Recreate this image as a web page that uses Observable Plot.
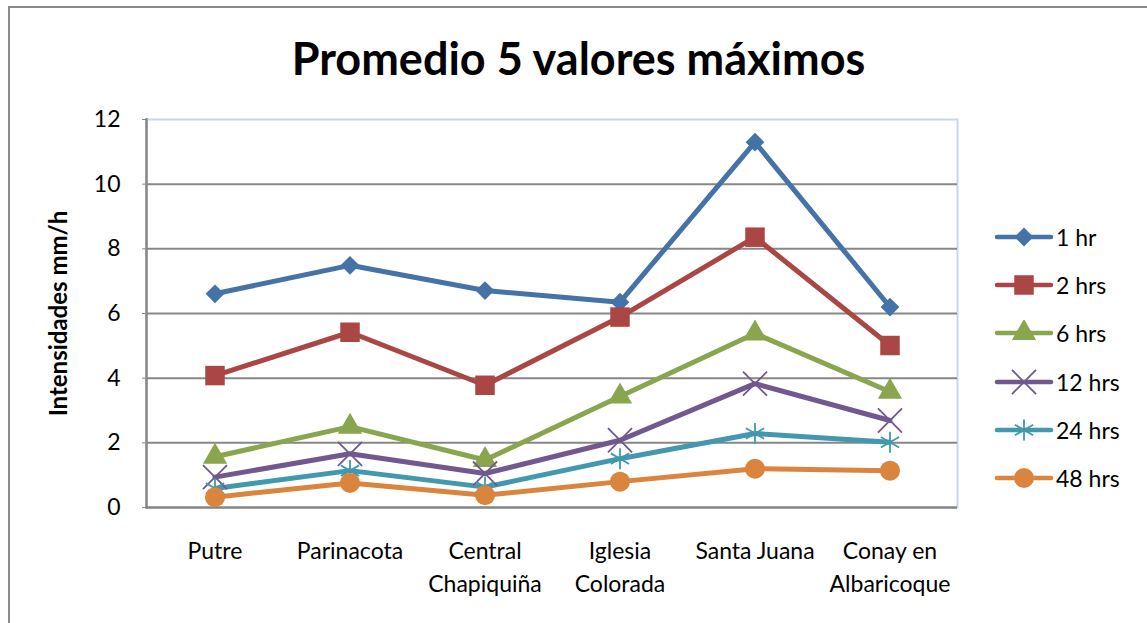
<!DOCTYPE html>
<html>
<head>
<meta charset="utf-8">
<script src="https://cdn.jsdelivr.net/npm/d3@7"></script>
<script src="https://cdn.jsdelivr.net/npm/@observablehq/plot@0.6"></script>
<style>
  html, body { margin: 0; padding: 0; background: #fff; }
  #wrap { position: relative; width: 1147px; height: 623px; overflow: hidden; background: #fff; font-family: Lato, "Open Sans", sans-serif; }
  #border { position: absolute; left: 8px; top: 6px; width: 1300px; height: 800px; border: 2px solid #8a8a8a; box-sizing: border-box; }
  #title { position: absolute; left: 0; width: 1157px; top: 30px; text-align: center; font-weight: bold; font-size: 45px; color: #000; line-height: 56px; }
  #chart { position: absolute; left: 0; top: 0; }
  #legend { position: absolute; left: 994px; top: 213px; }
  .row { display: flex; align-items: center; height: 48.2px; font-size: 23px; color: #000; }
  .row svg { margin-right: 2px; }
</style>
</head>
<body>
<div id="wrap">
  <div id="border"></div>
  <div id="chart"></div>
  <div id="title">Promedio 5 valores máximos</div>
  <div id="legend"></div>
</div>
<script>
const categories = ["Putre", "Parinacota", "Central\nChapiquiña", "Iglesia\nColorada", "Santa Juana", "Conay en\nAlbaricoque"];
const seriesNames = ["1 hr", "2 hrs", "6 hrs", "12 hrs", "24 hrs", "48 hrs"];
const v1hr  = [6.61, 7.49, 6.71, 6.35, 11.30, 6.20];
const v2hrs = [4.08, 5.42, 3.78, 5.89, 8.36, 5.01];
const v6hrs = [1.57, 2.50, 1.47, 3.43, 5.38, 3.58];
const v12hrs = [0.94, 1.66, 1.05, 2.08, 3.83, 2.69];
const v24hrs = [0.59, 1.14, 0.63, 1.51, 2.29, 2.02];
const v48hrs = [0.32, 0.76, 0.38, 0.80, 1.20, 1.14];
const yTicks = [0, 2, 4, 6, 8, 10, 12];

const colors = ["#4572A7", "#AA4643", "#89A54E", "#71588F", "#4198AF", "#DB843D"];
const markers = [
  {symbol: "square", r: 7.5, rotate: 45, filled: true},
  {symbol: "square", r: 11, rotate: 0, filled: true},
  {symbol: "triangle", r: 9, rotate: 0, filled: true},
  {symbol: "times", r: 11, rotate: 0, filled: false},
  {symbol: "asterisk", r: 10, rotate: 0, filled: false},
  {symbol: "circle", r: 10, rotate: 0, filled: true}
];

const allValues = [v1hr, v2hrs, v6hrs, v12hrs, v24hrs, v48hrs];
const rows = [];
allValues.forEach((vals, si) => vals.forEach((v, ci) => rows.push({series: seriesNames[si], cat: categories[ci], value: v})));

const marks = [
  Plot.frame({stroke: "#c9d7ee", strokeWidth: 2}),
  Plot.gridY([2, 4, 6, 8, 10], {stroke: "#878787", strokeOpacity: 1, strokeWidth: 2}),
  Plot.ruleY([0], {stroke: "#878787", strokeWidth: 2.5}),
  Plot.frame({anchor: "left", stroke: "#878787", strokeWidth: 2.5}),
  Plot.axisY({ticks: yTicks, tickSize: 4, tickPadding: 22, fontSize: 23, stroke: "#878787",
    label: "Intensidades mm/h", labelAnchor: "center", labelArrow: "none", labelOffset: 97}),
  Plot.axisX({tickSize: 0, tickPadding: 28, fontSize: 23, lineHeight: 1.43, label: null}),
  Plot.line(rows, {x: "cat", y: "value", z: "series", stroke: "series", strokeWidth: 5, strokeLinejoin: "miter", strokeLinecap: "round"})
];
seriesNames.forEach((s, i) => {
  const m = markers[i];
  const d = rows.filter(r => r.series === s);
  marks.push(Plot.dot(d, {x: "cat", y: "value", symbol: () => m.symbol, r: m.r, rotate: m.rotate,
    fill: m.filled ? colors[i] : "none", stroke: m.filled ? "none" : colors[i], strokeWidth: m.filled ? 0 : 1.8}));
});

const chart = Plot.plot({
  width: 1147,
  height: 623,
  marginLeft: 146,
  marginRight: 190,
  marginTop: 119,
  marginBottom: 116,
  style: {fontFamily: "Lato, 'Open Sans', sans-serif", fontSize: "23px", color: "#000", background: "transparent"},
  x: {type: "band", domain: categories, padding: 0, label: null},
  y: {domain: [0, 12], label: "Intensidades mm/h"},
  color: {domain: seriesNames, range: colors},
  symbol: {domain: ["square", "triangle", "times", "asterisk", "circle"], range: ["square", "triangle", "times", "asterisk", "circle"]},
  marks
});
d3.select(chart).selectAll("g[aria-label='y-axis label']").attr("font-weight", "bold").attr("font-size", 24).style("font-size", "24px");
document.getElementById("chart").appendChild(chart);

// legend
const legend = d3.select("#legend");
seriesNames.forEach((s, i) => {
  const m = markers[i];
  const row = legend.append("div").attr("class", "row");
  const svg = row.append("svg").attr("width", 60).attr("height", 26);
  svg.append("line").attr("x1", 3).attr("x2", 57).attr("y1", 13).attr("y2", 13)
    .attr("stroke", colors[i]).attr("stroke-width", 4.5).attr("stroke-linecap", "round");
  const symType = {square: d3.symbolSquare, triangle: d3.symbolTriangle, times: d3.symbolTimes, asterisk: d3.symbolAsterisk, circle: d3.symbolCircle}[m.symbol];
  const p = d3.symbol(symType, Math.PI * m.r * m.r)();
  svg.append("path").attr("d", p).attr("transform", `translate(30,13) rotate(${m.rotate})`)
    .attr("fill", m.filled ? colors[i] : "none").attr("stroke", m.filled ? "none" : colors[i]).attr("stroke-width", m.filled ? 0 : 1.8);
  row.append("span").text(s);
});
</script>
</body>
</html>
